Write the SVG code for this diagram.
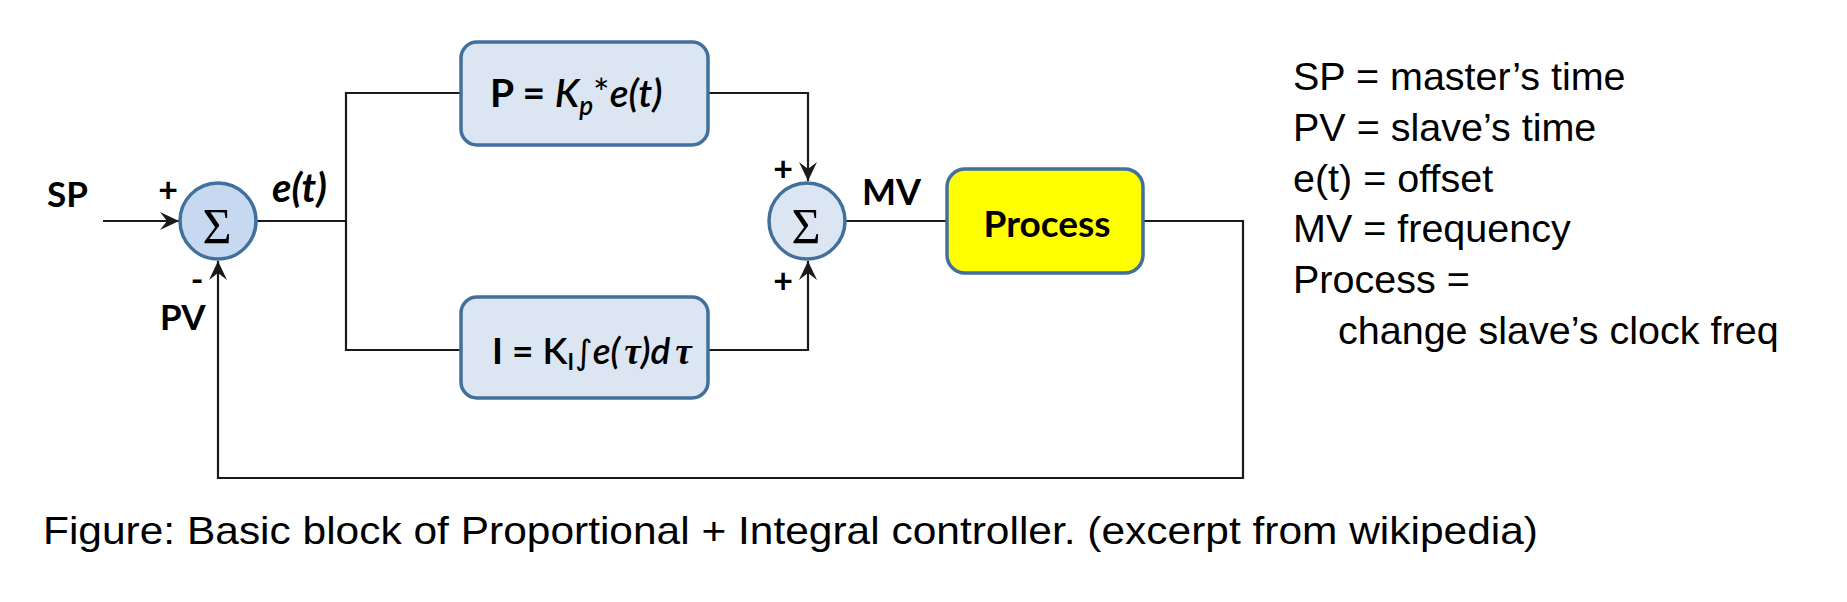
<svg xmlns="http://www.w3.org/2000/svg" width="1847" height="602" viewBox="0 0 1847 602">
<style>
.ln{fill:none;stroke:#1a1a1a;stroke-width:2.2}
.lbl{font-family:Lato,"Open Sans",sans-serif;font-weight:bold;fill:#000}
.sig{font-family:"Liberation Serif","DejaVu Serif",serif;font-size:50px;fill:#000}
.box{stroke:#41709C;stroke-width:3.5}
.note{font-family:"Liberation Sans",Arial,sans-serif;font-size:39.5px;fill:#000}
.it{font-style:italic;font-weight:600}
</style>
<defs>
<marker id="arr" markerUnits="userSpaceOnUse" markerWidth="24" markerHeight="20" viewBox="-20 -10 22 20" refX="0" refY="0" orient="auto">
<path d="M0,0 L-19,-9 L-12,0 L-19,9 Z" fill="#1a1a1a"/>
</marker>
</defs>
<rect width="1847" height="602" fill="#fff"/>
<g id="connectors">
<line class="ln" x1="103" y1="221" x2="179" y2="221" marker-end="url(#arr)"/>
<line class="ln" x1="257" y1="221" x2="346" y2="221"/>
<polyline class="ln" points="461,93 346,93 346,350 461,350"/>
<polyline class="ln" points="708,93 808,93 808,181" marker-end="url(#arr)"/>
<polyline class="ln" points="708,350 808,350 808,261" marker-end="url(#arr)"/>
<line class="ln" x1="846" y1="221" x2="947" y2="221"/>
<polyline class="ln" points="1143,221 1243,221 1243,478 218,478 218,261" marker-end="url(#arr)"/>
</g>
<g id="sp-label"><text class="lbl" x="47" y="207" font-size="35">SP</text></g>
<g id="pv-label"><text class="lbl" x="160" y="330" font-size="35">PV</text></g>
<g id="sum1">
<circle cx="218" cy="221" r="38" fill="#C6D9F0" class="box"/>
<text class="sig" x="217" y="243" text-anchor="middle">Σ</text>
<text class="lbl" x="168" y="202" font-size="34" text-anchor="middle">+</text>
<text class="lbl" x="197" y="292" font-size="34" text-anchor="middle">-</text>
</g>
<g id="et-label"><text class="lbl" x="272" y="202" font-size="40" font-style="italic">e(t)</text></g>
<g id="p-block">
<rect x="461" y="42" width="247" height="103" rx="16" fill="#DCE6F2" class="box"/>
<text class="lbl" x="490" y="107" font-size="39">P = <tspan class="it">K</tspan><tspan class="it" font-size="26" dy="8">p</tspan><tspan font-weight="normal" dy="-8">*</tspan><tspan class="it">e(t)</tspan></text>
</g>
<g id="i-block">
<rect x="461" y="297" width="247" height="101" rx="16" fill="#DCE6F2" class="box"/>
<text class="lbl" x="492" y="364" font-size="37">I = <tspan font-weight="600">K</tspan><tspan font-size="22" dy="6">I</tspan><tspan font-weight="normal" dy="-6" dx="1" font-family="'DejaVu Sans',sans-serif" font-size="34">∫</tspan><tspan class="it">e(</tspan><tspan class="it" dx="4" font-family="'Liberation Serif',serif">τ</tspan><tspan class="it">)d</tspan><tspan class="it" dx="5" font-family="'Liberation Serif',serif">τ</tspan></text>
</g>
<g id="sum2">
<circle cx="807" cy="221" r="38" fill="#DCE6F2" class="box"/>
<text class="sig" x="806" y="243" text-anchor="middle">Σ</text>
<text class="lbl" x="783" y="181" font-size="34" text-anchor="middle">+</text>
<text class="lbl" x="783" y="293" font-size="34" text-anchor="middle">+</text>
</g>
<g id="mv-label"><text class="lbl" x="862" y="205" font-size="36">MV</text></g>
<g id="process">
<rect x="947" y="169" width="196" height="104" rx="18" fill="#FFFF00" class="box"/>
<text class="lbl" x="1047" y="237" font-size="37" text-anchor="middle">Process</text>
</g>
<g id="legend">
<text class="note" x="1293" y="90">SP = master’s time</text>
<text class="note" x="1293" y="140.8">PV = slave’s time</text>
<text class="note" x="1293" y="191.6">e(t) = offset</text>
<text class="note" x="1293" y="242.4">MV = frequency</text>
<text class="note" x="1293" y="293.2">Process =</text>
<text class="note" x="1338" y="344">change slave’s clock freq</text>
</g>
<g id="caption">
<text class="note" x="43" y="544" font-size="40" textLength="1495" lengthAdjust="spacingAndGlyphs">Figure: Basic block of Proportional + Integral controller. (excerpt from wikipedia)</text>
</g>
</svg>
